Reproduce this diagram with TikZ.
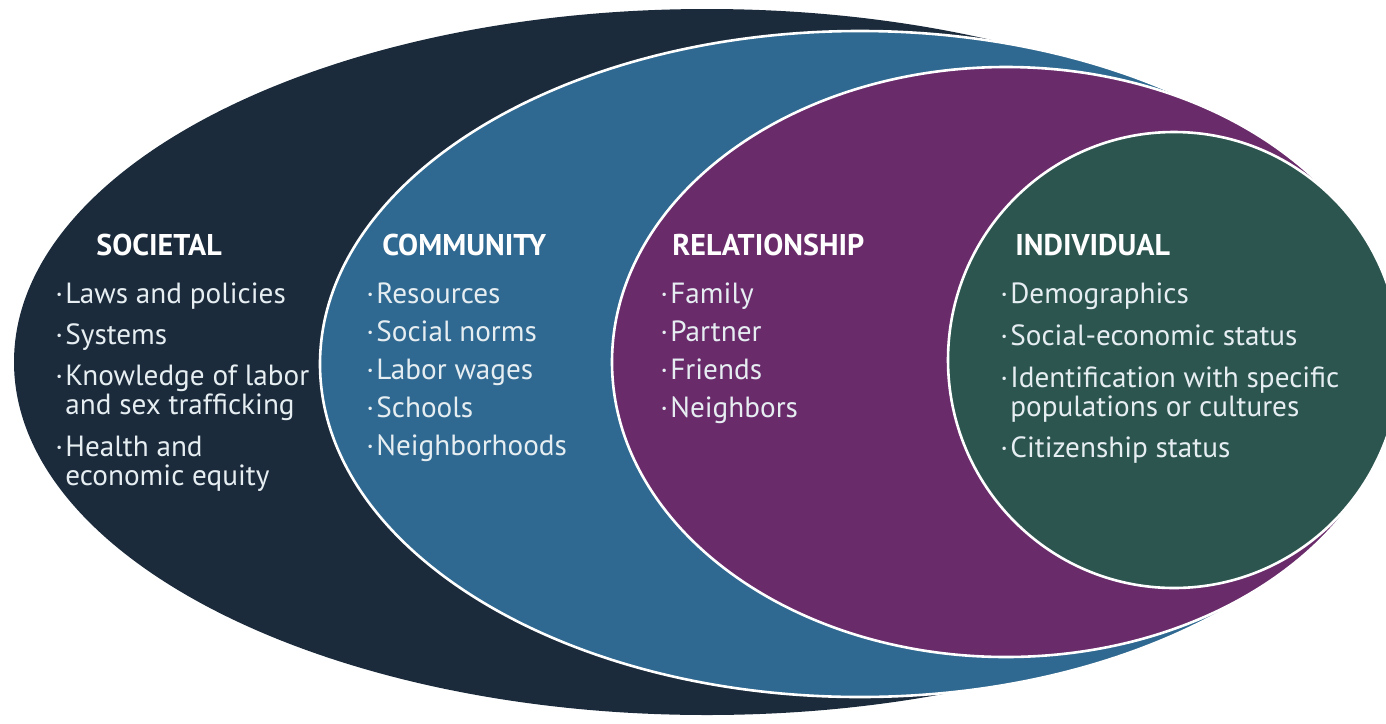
\documentclass[tikz,border=0pt]{standalone}
\usepackage{fontspec}
\setmainfont{PT Sans}
\usepackage{array}

\definecolor{societal}{HTML}{1B2B3C}
\definecolor{community}{HTML}{2F6991}
\definecolor{relation}{HTML}{6A2B6B}
\definecolor{individual}{HTML}{2C5550}
\definecolor{txt}{HTML}{E6EEF2}

% punto elenco con rientro sospeso
\newcommand{\bul}[1]{\makebox[5pt][l]{·}\begin{tabular}[t]{@{}l@{}}#1\end{tabular}}

\begin{document}
\begin{tikzpicture}[x=0.5pt, y=-0.5pt,
    ring/.style={draw=white, line width=1.3pt},
    head/.style={anchor=base west, inner sep=0pt, text=white,
        font=\fontsize{15}{15}\selectfont\bfseries},
    itm/.style={anchor=base west, inner sep=0pt, text=txt,
        font=\fontsize{14.6}{14}\selectfont}]

    \useasboundingbox (0,0) rectangle (1386,723);
    \clip (0,0) rectangle (1386,723);

    % Ellissi annidate
    \fill[societal] (707,362) ellipse [x radius=693, y radius=353];
    \filldraw[community, ring] (860,364) ellipse [x radius=540, y radius=333];
    \filldraw[relation, ring] (1006,362) ellipse [x radius=394, y radius=295];
    \filldraw[individual, ring] (1174,360) ellipse [x radius=226, y radius=228];

    % Titoli
    \node[head] (soc) at (96,255) {SOCIETAL};
    \node[head] (com) at (382,255) {COMMUNITY};
    \node[head] (rel) at (672,255) {RELATIONSHIP};
    \node[head] (ind) at (1015,255) {INDIVIDUAL};

    % Voci SOCIETAL
    \foreach \y/\t [count=\i] in {303/Laws and policies, 344/Systems,
        385/{Knowledge of labor\\and sex trafficking}, 456/{Health and\\economic equity}}
        \node[itm] (soc\i) at (55,\y) {\bul{\t}};

    % Voci COMMUNITY
    \foreach \t [count=\i] in {Resources, Social norms, Labor wages, Schools, Neighborhoods}
        \node[itm] (com\i) at (366,303+38*\i-38) {\bul{\t}};

    % Voci RELATIONSHIP
    \foreach \t [count=\i] in {Family, Partner, Friends, Neighbors}
        \node[itm] (rel\i) at (660,303+38*\i-38) {\bul{\t}};

    % Voci INDIVIDUAL
    \foreach \y/\t [count=\i] in {303/Demographics, 345/Social-economic status,
        387/{Identification with specific\\populations or cultures}, 457/Citizenship status}
        \node[itm] (ind\i) at (1000,\y) {\bul{\t}};

\end{tikzpicture}
\end{document}
